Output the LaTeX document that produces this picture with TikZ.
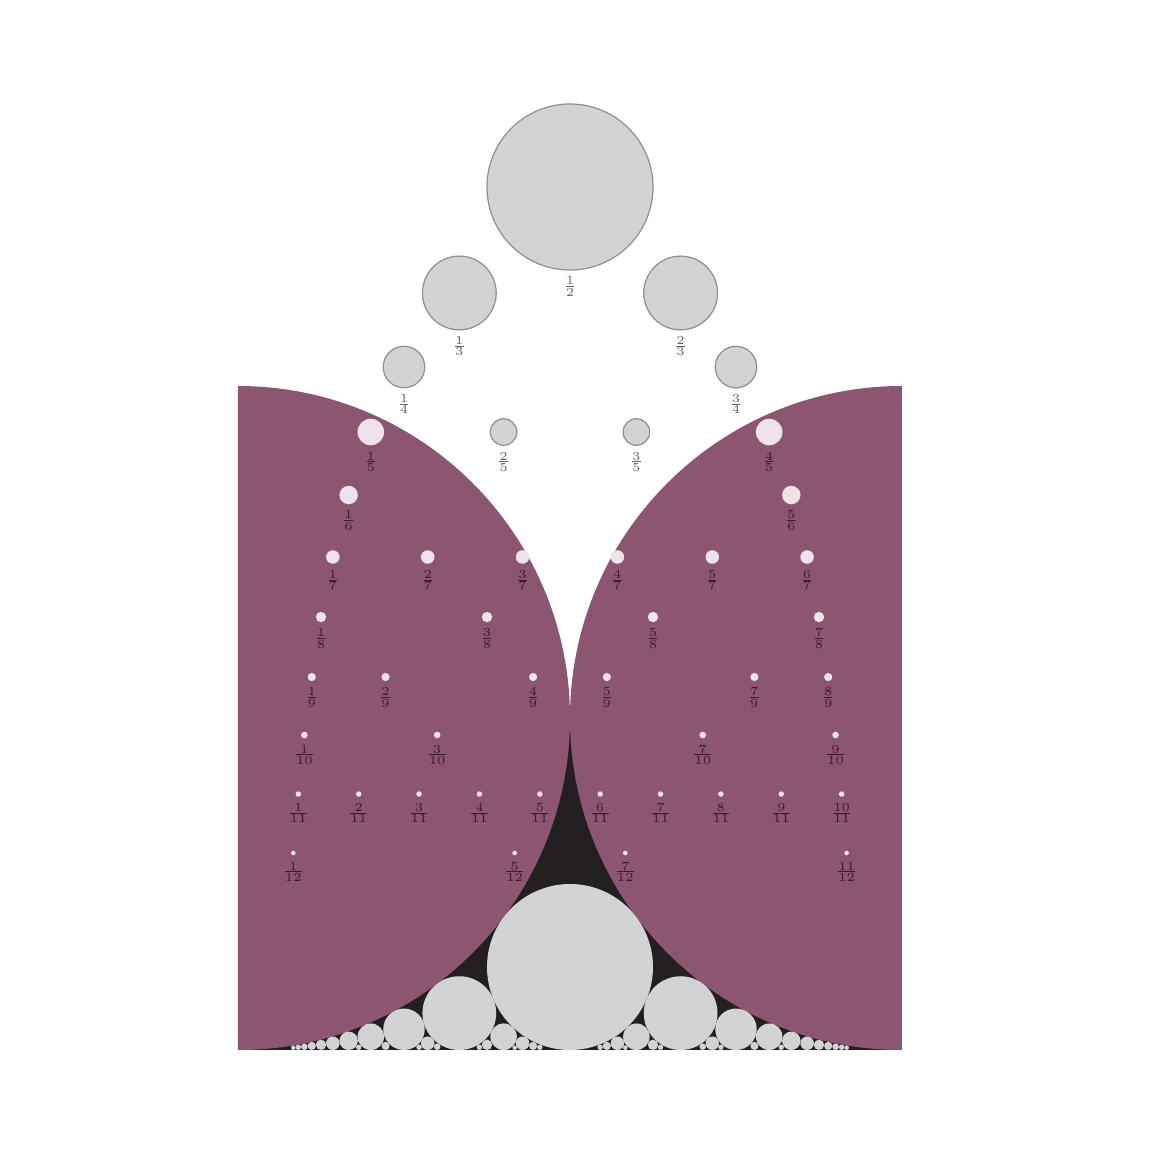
\documentclass[tikz,border=0pt]{standalone}
\usetikzlibrary{calc}
\definecolor{fordpurple}{HTML}{8C5673}
\definecolor{fordgray}{HTML}{D1D3D4}
\definecolor{fordblack}{HTML}{231F20}
\definecolor{fordedge}{HTML}{8F9092}
\definecolor{fordlight}{HTML}{EDE3E9}
\definecolor{fordink}{HTML}{3A1A2C}
\begin{document}
\begin{tikzpicture}[x=6.64cm,y=6.64cm,
	ford/.style={fill=fordgray,draw=fordedge,line width=0.35pt},
	fordin/.style={fill=fordlight},
	fraclabel/.style={font=\tiny,scale=0.7,transform shape,text=fordedge!70!black,inner sep=0.4pt,anchor=north},
	fraclabelin/.style={fraclabel,text=fordink}]

\useasboundingbox (-0.35843,-0.15060) rectangle (1.37349,1.58133);

\fill[fordblack] (0,0) rectangle (1,0.5);
\begin{scope}
	\clip (0,0) rectangle (1,1);
	\fill[fordpurple] (0,0.5) circle (0.5);
	\fill[fordpurple] (1,0.5) circle (0.5);
\end{scope}

\foreach \q in {2,...,12}{
	\foreach \p in {1,...,11}{
		\pgfmathtruncatemacro\g{gcd(\p,\q)}
		\ifnum\p<\q \ifnum\g=1
			\fill[fordgray] ({\p/\q},{1/(2*\q*\q)}) circle ({1/(2*\q*\q)});
		\fi\fi
	}
}

\foreach \q/\y in {2/1.2997,3/1.1401,4/1.0286,5/0.9307,6/0.8358,7/0.7425,
		8/0.6521,9/0.5617,10/0.4744,11/0.3855,12/0.2967}{
	\foreach \p in {1,...,11}{
		\pgfmathtruncatemacro\g{gcd(\p,\q)}
		\ifnum\p<\q \ifnum\g=1
			\pgfmathtruncatemacro\inside{(min(\p,\q-\p)/\q)^2+(\y-0.5)^2<0.25}
			\pgfmathsetmacro\r{1/(2*\q*\q)}
			\ifnum\inside=1
				\fill[fordin] ({\p/\q},\y) circle (\r);
				\node[fraclabelin] (f\p-\q) at ({\p/\q},{\y-\r-0.008}) {$\frac{\p}{\q}$};
			\else
				\filldraw[ford] ({\p/\q},\y) circle (\r);
				\node[fraclabel] (f\p-\q) at ({\p/\q},{\y-\r-0.008}) {$\frac{\p}{\q}$};
			\fi
		\fi\fi
	}
}
\end{tikzpicture}
\end{document}
